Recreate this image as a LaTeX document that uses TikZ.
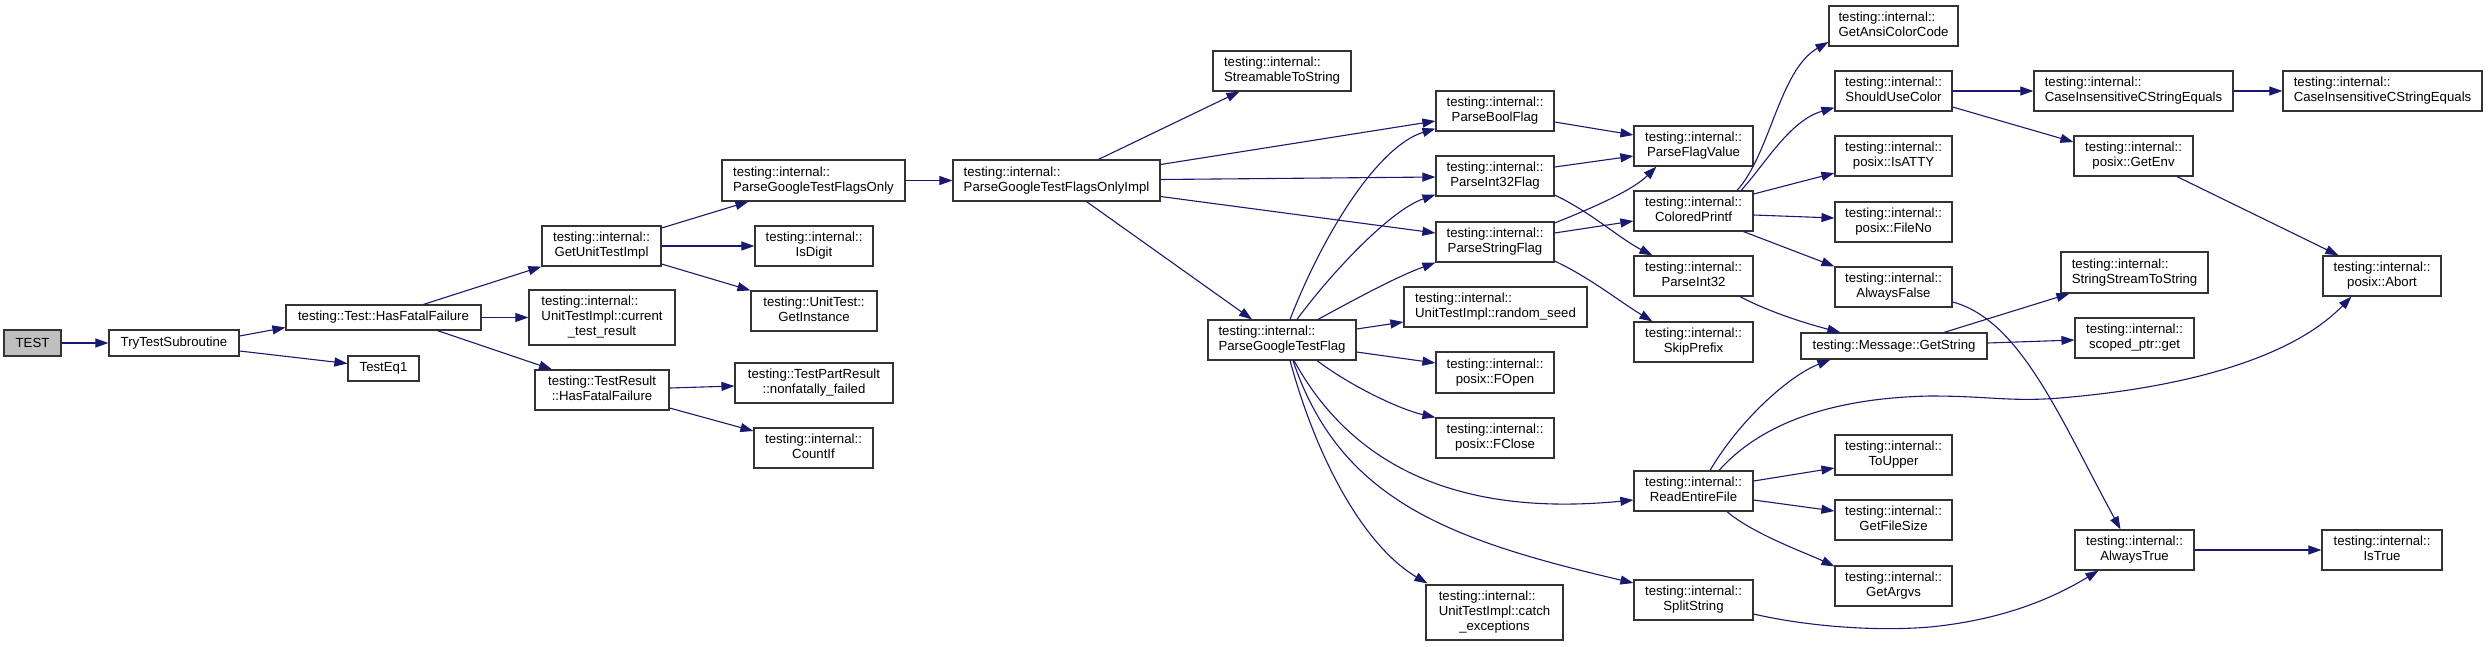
\documentclass[tikz,border=0pt]{standalone}
\usepackage{fontspec}
\setmainfont{Liberation Sans}
\usetikzlibrary{arrows.meta,calc}
\definecolor{edgeblue}{HTML}{191970}
\definecolor{boxline}{HTML}{333333}
\definecolor{rootfill}{HTML}{BFBFBF}
\newcommand\lab[2]{\begin{tabular}{@{}c@{}}\multicolumn{1}{@{}l@{}}{#1}\\#2\end{tabular}}
\newcommand\bx[7][white]{\node[box, fill=#1, minimum width={#5pt-#3pt}, minimum height={#6pt-#4pt}] (#2) at ({(#3+#5)/2},{(#4+#6)/2}) {#7};}
\tikzset{
  box/.style={draw=boxline, line width=1.2pt, inner sep=0pt, align=center,
    font=\fontsize{13.2}{15}\selectfont},
  call/.style={draw=edgeblue, line width=1.1pt, -{Triangle[length=13pt,width=9pt]}},
}
\begin{document}
\begin{tikzpicture}[x=1pt,y=-1pt]
\fill[white] (0,0) rectangle (2488,646);
\useasboundingbox (0,0) rectangle (2488,646);
% nodes
\bx[rootfill]{test}{4}{330}{61}{356}{TEST}
\bx{tts}{109}{330}{239}{356}{TryTestSubroutine}
\bx{thff}{286}{305}{481}{330}{testing::Test::HasFatalFailure}
\bx{teq}{348}{356}{419}{381}{TestEq1}
\bx{guti}{542}{226}{661}{266}{\lab{testing::internal::}{GetUnitTestImpl}}
\bx{ctr}{529}{290}{675}{345}{\lab{testing::internal::}{UnitTestImpl::current\\\_test\_result}}
\bx{trhff}{535}{370}{669}{410}{\lab{testing::TestResult}{::HasFatalFailure}}
\bx{pgtfo}{722}{160}{905}{201}{\lab{testing::internal::}{ParseGoogleTestFlagsOnly}}
\bx{isdigit}{755}{226}{873}{266}{\lab{testing::internal::}{IsDigit}}
\bx{getinst}{751}{291}{877}{331}{\lab{testing::UnitTest::}{GetInstance}}
\bx{nff}{735}{363}{893}{403}{\lab{testing::TestPartResult}{::nonfatally\_failed}}
\bx{countif}{754}{428}{873}{468}{\lab{testing::internal::}{CountIf}}
\bx{pgtfoi}{953}{160}{1160}{201}{\lab{testing::internal::}{ParseGoogleTestFlagsOnlyImpl}}
\bx{sts}{1213}{51}{1351}{91}{\lab{testing::internal::}{StreamableToString}}
\bx{pgtf}{1208}{320}{1356}{360}{\lab{testing::internal::}{ParseGoogleTestFlag}}
\bx{pbf}{1436}{91}{1554}{131}{\lab{testing::internal::}{ParseBoolFlag}}
\bx{pi32f}{1436}{156}{1554}{196}{\lab{testing::internal::}{ParseInt32Flag}}
\bx{psf}{1436}{222}{1554}{262}{\lab{testing::internal::}{ParseStringFlag}}
\bx{rseed}{1404}{287}{1587}{327}{\lab{testing::internal::}{UnitTestImpl::random\_seed}}
\bx{fopen}{1436}{352}{1554}{393}{\lab{testing::internal::}{posix::FOpen}}
\bx{fclose}{1436}{418}{1554}{458}{\lab{testing::internal::}{posix::FClose}}
\bx{catchex}{1426}{585}{1563}{640}{\lab{testing::internal::}{UnitTestImpl::catch\\\_exceptions}}
\bx{pfv}{1634}{126}{1753}{166}{\lab{testing::internal::}{ParseFlagValue}}
\bx{cprintf}{1634}{191}{1753}{231}{\lab{testing::internal::}{ColoredPrintf}}
\bx{pi32}{1634}{256}{1753}{296}{\lab{testing::internal::}{ParseInt32}}
\bx{skipp}{1634}{322}{1753}{362}{\lab{testing::internal::}{SkipPrefix}}
\bx{ref}{1634}{471}{1753}{511}{\lab{testing::internal::}{ReadEntireFile}}
\bx{split}{1634}{580}{1753}{620}{\lab{testing::internal::}{SplitString}}
\bx{gacc}{1829}{6}{1958}{46}{\lab{testing::internal::}{GetAnsiColorCode}}
\bx{suc}{1835}{71}{1952}{111}{\lab{testing::internal::}{ShouldUseColor}}
\bx{isatty}{1835}{136}{1952}{176}{\lab{testing::internal::}{posix::IsATTY}}
\bx{fileno}{1835}{202}{1952}{242}{\lab{testing::internal::}{posix::FileNo}}
\bx{afalse}{1835}{267}{1952}{307}{\lab{testing::internal::}{AlwaysFalse}}
\bx{msgstr}{1801}{333}{1987}{359}{testing::Message::GetString}
\bx{toupper}{1835}{435}{1952}{475}{\lab{testing::internal::}{ToUpper}}
\bx{gfs}{1835}{500}{1952}{540}{\lab{testing::internal::}{GetFileSize}}
\bx{argvs}{1835}{566}{1952}{606}{\lab{testing::internal::}{GetArgvs}}
\bx{cisea}{2034}{71}{2233}{111}{\lab{testing::internal::}{CaseInsensitiveCStringEquals}}
\bx{ciseb}{2283}{71}{2482}{111}{\lab{testing::internal::}{CaseInsensitiveCStringEquals}}
\bx{getenv}{2074}{136}{2193}{176}{\lab{testing::internal::}{posix::GetEnv}}
\bx{ssts}{2061}{252}{2208}{293}{\lab{testing::internal::}{StringStreamToString}}
\bx{sptr}{2075}{318}{2194}{358}{\lab{testing::internal::}{scoped\_ptr::get}}
\bx{abort}{2323}{256}{2441}{296}{\lab{testing::internal::}{posix::Abort}}
\bx{atrue}{2075}{530}{2194}{570}{\lab{testing::internal::}{AlwaysTrue}}
\bx{istrue}{2322}{530}{2442}{570}{\lab{testing::internal::}{IsTrue}}
% edges
\draw[call] (test.east) -- (tts.west);
\draw[call] ($(tts.east)+(0,-7)$) -- ($(thff.west)+(0,10)$);
\draw[call] ($(tts.east)+(0,8)$) -- ($(teq.west)+(0,-5)$);
\draw[call] ($(thff.north)+(40,0)$) -- (guti.south west);
\draw[call] (thff.east) -- (ctr.west);
\draw[call] ($(thff.south)+(54,0)$) -- ($(trhff.north)+(-50,0)$);
\draw[call] ($(guti.east)+(0,-18)$) -- ($(pgtfo.south west)+(27,0)$);
\draw[call] (guti.east) -- (isdigit.west);
\draw[call] ($(guti.east)+(0,18)$) -- (getinst.north west);
\draw[call] ($(trhff.east)+(0,-2)$) -- ($(nff.west)+(0,3)$);
\draw[call] ($(trhff.east)+(0,18)$) -- ($(countif.west)+(0,-17)$);
\draw[call] (pgtfo.east) -- (pgtfoi.west);
\draw[call] ($(pgtfoi.north)+(42,0)$) -- ($(sts.south west)+(27,0)$);
\draw[call] ($(pgtfoi.east)+(0,-16)$) -- ($(pbf.west)+(0,10)$);
\draw[call] ($(pgtfoi.east)+(0,-1)$) -- ($(pi32f.west)+(0,1)$);
\draw[call] ($(pgtfoi.east)+(0,16)$) -- ($(psf.west)+(0,-9)$);
\draw[call] ($(pgtfoi.south)+(30,0)$) -- ($(pgtf.north)+(-30,0)$);
\draw[call] ($(pgtf.north)+(8,0)$) .. controls +(35,-90) and +(-56,17) .. ($(pbf.south west)+(0,-3)$);
\draw[call] ($(pgtf.north)+(15,0)$) .. controls +(33,-45) and +(-46,16) .. ($(pi32f.south west)+(0,-2)$);
\draw[call] ($(pgtf.north)+(36,0)$) .. controls +(42,-23) and +(-36,13) .. (psf.south west);
\draw[call] ($(pgtf.east)+(0,-11)$) -- ($(rseed.west)+(0,15)$);
\draw[call] ($(pgtf.east)+(0,12)$) -- ($(fopen.west)+(0,-9.5)$);
\draw[call] ($(pgtf.south)+(35,0)$) .. controls +(33,25) and +(-36,-8) .. (fclose.north west);
\draw[call] ($(pgtf.south)+(12,0)$) .. controls +(66,120) and +(-154,15) .. ($(ref.west)+(0,9)$);
\draw[call] ($(pgtf.south)+(11,0)$) .. controls +(47,140) and +(-184,-43) .. ($(split.west)+(0,-17)$);
\draw[call] ($(pgtf.south)+(8,0)$) .. controls +(30,110) and +(-58,-34) .. ($(catchex.north west)+(2,-1)$);
\draw[call] ($(pbf.east)+(0,11)$) -- ($(pfv.west)+(0,-11)$);
\draw[call] ($(pi32f.east)+(0,-9)$) -- ($(pfv.west)+(0,10)$);
\draw[call] ($(pi32f.east)+(0,19)$) .. controls +(36,17) and +(-33,-17) .. ($(pi32.north west)+(19,0)$);
\draw[call] ($(psf.east)+(0,-19)$) .. controls +(30,-12) and +(-25,25) .. ($(pfv.south west)+(23,0)$);
\draw[call] ($(psf.east)+(0,-9)$) -- ($(cprintf.west)+(0,10)$);
\draw[call] ($(psf.east)+(0,19)$) .. controls +(36,17) and +(-33,-20) .. ($(skipp.north west)+(19,0)$);
\draw[call] ($(cprintf.north)+(43.5,0)$) .. controls +(33,-36) and +(-49,28) .. ($(gacc.west)+(0,16)$);
\draw[call] ($(cprintf.north)+(47.5,0)$) .. controls +(24,-26) and +(-45,13) .. ($(suc.south west)+(0,-4)$);
\draw[call] ($(cprintf.east)+(0,-17)$) -- ($(isatty.west)+(0,17)$);
\draw[call] ($(cprintf.east)+(0,4)$) -- ($(fileno.west)+(0,-4)$);
\draw[call] ($(cprintf.south)+(50,0)$) -- (afalse.north west);
\draw[call] (suc.east) -- (cisea.west);
\draw[call] (cisea.east) -- (ciseb.west);
\draw[call] ($(suc.east)+(0,16)$) -- ($(getenv.west)+(0,-14)$);
\draw[call] ($(getenv.south)+(43.5,0)$) -- ($(abort.north west)+(16,0)$);
\draw[call] ($(pi32.south)+(46.5,0)$) .. controls +(30,16) and +(-31,-8) .. ($(msgstr.north west)+(40,0)$);
\draw[call] ($(afalse.east)+(0,15)$) .. controls +(68,18) and +(-60,-110) .. ($(atrue.north)+(-14,0)$);
\draw[call] ($(msgstr.north)+(50,0)$) -- ($(ssts.south west)+(9,0)$);
\draw[call] ($(msgstr.east)+(0,-3)$) -- ($(sptr.west)+(0,2)$);
\draw[call] ($(ref.north)+(16.5,0)$) .. controls +(30,-51) and +(-41,16) .. ($(msgstr.south west)+(30,0)$);
\draw[call] ($(ref.north)+(25.5,0)$) .. controls +(41,-46) and (1830,398) .. (1930,396)
   .. controls (1990,396) and (2010,402) .. (2060,398)
   .. controls (2180,388) and (2290,360) .. ($(abort.south west)+(29,0)$);
\draw[call] ($(ref.east)+(0,-10)$) -- ($(toupper.west)+(0,13)$);
\draw[call] ($(ref.east)+(0,9)$) -- ($(gfs.west)+(0,-9)$);
\draw[call] ($(ref.south)+(33.5,0)$) .. controls +(25,22) and +(-25,-12) .. ($(argvs.north west)+(0,1)$);
\draw[call] ($(split.east)+(0,14)$) .. controls +(47,11) and (1870,632) .. (1930,627)
   .. controls (2000,620) and (2050,600) .. ($(atrue.south)+(-36,0)$);
\draw[call] (atrue.east) -- (istrue.west);
\end{tikzpicture}
\end{document}
